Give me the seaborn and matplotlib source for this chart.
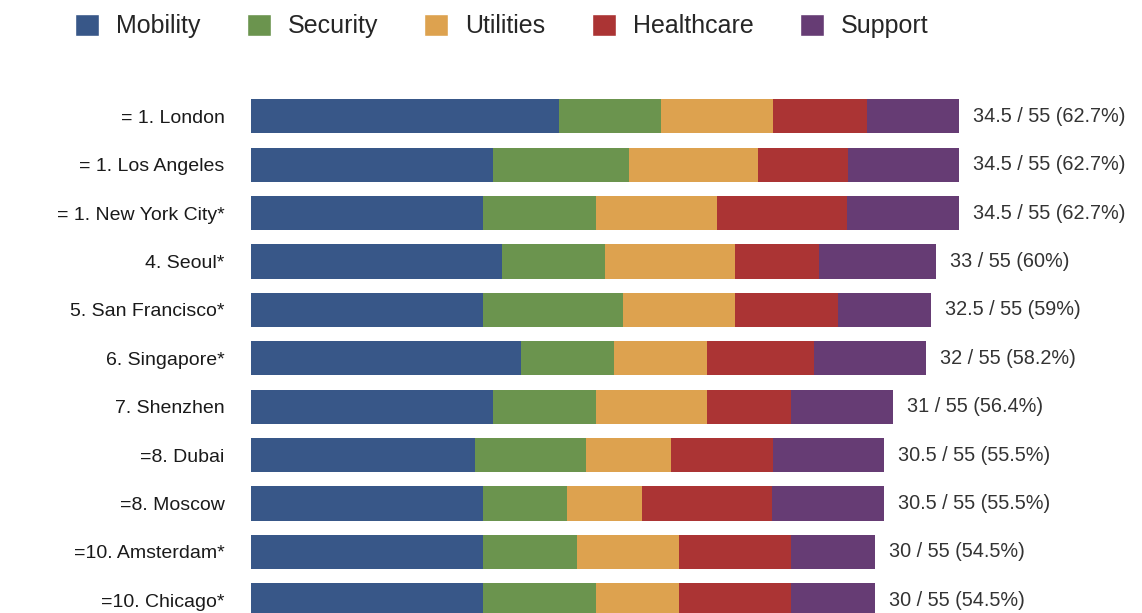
import matplotlib.pyplot as plt
import matplotlib.transforms as mtransforms
from matplotlib.patches import Patch
import numpy as np
import pandas as pd
import seaborn as sns

cities = ["= 1. London", "= 1. Los Angeles", "= 1. New York City*", "4. Seoul*",
          "5. San Francisco*", "6. Singapore*", "7. Shenzhen", "=8. Dubai",
          "=8. Moscow", "=10. Amsterdam*", "=10. Chicago*"]
categories = ["Mobility", "Security", "Utilities", "Healthcare", "Support"]
mobility = [15.0, 11.8, 11.32, 12.25, 11.32, 13.16, 11.79, 10.9, 11.32, 11.32, 11.32]
security = [5.0, 6.6, 5.48, 5.0, 6.82, 4.53, 5.0, 5.44, 4.09, 4.55, 5.48]
utilities = [5.45, 6.33, 5.9, 6.35, 5.46, 4.55, 5.44, 4.11, 3.65, 5.0, 4.07]
healthcare = [4.55, 4.34, 6.36, 4.08, 4.99, 5.21, 4.09, 4.97, 6.35, 5.46, 5.46]
support = [4.5, 5.44, 5.44, 5.69, 4.55, 5.46, 4.97, 5.44, 5.44, 4.08, 4.08]
scores = ["34.5", "34.5", "34.5", "33", "32.5", "32", "31", "30.5", "30.5", "30", "30"]
percents = ["62.7%", "62.7%", "62.7%", "60%", "59%", "58.2%", "56.4%", "55.5%", "55.5%", "54.5%", "54.5%"]
colors = ["#385788", "#6b944e", "#dda24f", "#ab3434", "#663c74"]

sns.set_style("white")
plt.rcParams['font.family'] = ['Liberation Sans', 'DejaVu Sans']

df = pd.DataFrame({"city": cities, "Mobility": mobility, "Security": security,
                   "Utilities": utilities, "Healthcare": healthcare, "Support": support})
cum = df[categories].cumsum(axis=1)
cum["city"] = df["city"]

fig = plt.figure(figsize=(11.42, 6.13), dpi=100)
ax = fig.add_axes([251 / 1142, 0, 1 - 251 / 1142, 1])

# stacked bars: draw running totals from the largest down
for cat, col in zip(categories[::-1], colors[::-1]):
    sns.barplot(data=cum, x=cat, y="city", orient="h", color=col, saturation=1,
                width=0.71, linewidth=0, edgecolor="none", ax=ax)

ax.set_xlim(0, (1142 - 251) / 20.52)
ax.set_ylim(10.262, -2.403)
sns.despine(ax=ax, left=True, bottom=True)
ax.set_xticks([])
ax.set_xlabel("")
ax.set_ylabel("")
ax.tick_params(axis="y", length=0, pad=19, labelsize=14, labelcolor="#1a1a1a")

offset = mtransforms.offset_copy(ax.transData, fig=fig, x=14, y=0, units="dots")
totals = cum["Support"].values
for i, (s, p) in enumerate(zip(scores, percents)):
    ax.text(totals[i], i, f"{s} / 55 ({p})", transform=offset, va="center",
            ha="left", fontsize=14.3, color="#333333")

handles = [Patch(facecolor=c, label=l) for c, l in zip(colors, categories)]
fig.legend(handles=handles, loc="center left", bbox_to_anchor=(75 / 1142, 1 - 26 / 613),
           ncol=5, frameon=False, fontsize=18, handlelength=0.96, handleheight=1.0,
           handletextpad=0.68, columnspacing=1.85, borderpad=0, borderaxespad=0)

fig.savefig("out.png", dpi=100)
